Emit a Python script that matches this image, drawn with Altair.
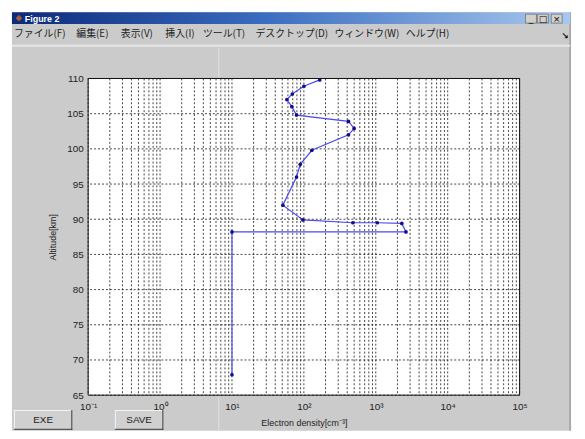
import altair as alt
import pandas as pd

# ---- data ----
altitude_km = [67.9, 88.2, 88.2, 89.4, 89.5, 89.5, 89.9, 92.0, 96.0, 97.8,
               99.8, 102.0, 102.9, 103.9, 104.8, 106.0, 107.0, 107.8, 108.9, 109.8]
density_cm3 = [10, 10, 2630, 2300, 1050, 480, 97, 51, 79, 89,
               129, 417, 500, 417, 79, 68, 58, 69, 100, 166]
x_decades = [0.1, 1, 10, 100, 1000, 10000, 100000]
x_decade_labels = ["10⁻¹", "10⁰", "10¹", "10²", "10³", "10⁴", "10⁵"]
y_ticks = [65, 70, 75, 80, 85, 90, 95, 100, 105, 110]
menu_items = ["ファイル(F)", "編集(E)", "表示(V)", "挿入(I)", "ツール(T)",
              "デスクトップ(D)", "ウィンドウ(W)", "ヘルプ(H)"]
window_title = "Figure 2"
button_labels = ["EXE", "SAVE"]

df = pd.DataFrame({"alt": altitude_km, "dens": density_cm3,
                   "idx": list(range(len(altitude_km)))})

# grid positions for a log axis: 1..9 x each decade
x_grid = []
for d in x_decades[:-1]:
    for m in range(1, 10):
        x_grid.append(m * d)
x_grid.append(x_decades[-1])

label_expr = ""
for v, lab in zip(x_decades, x_decade_labels):
    label_expr += f"datum.value == {v} ? '{lab}' : "
label_expr += "''"

W, H = 436, 320
# plot-area origin on the page
OX, OY = 89, 77
def px(x):
    return x - OX
def py(y):
    return y - OY

dummy = alt.Data(values=[{"d": 0}])
base = alt.Chart(dummy)

def rect(x1, y1, x2, y2, **kw):
    return base.mark_rect(**kw).encode(
        x=alt.value(px(x1)), x2=alt.value(px(x2)),
        y=alt.value(py(y1)), y2=alt.value(py(y2)))

def hline(x1, x2, y, color, width=1):
    return base.mark_rule(color=color, strokeWidth=width).encode(
        x=alt.value(px(x1)), x2=alt.value(px(x2)), y=alt.value(py(y)))

def vline(x, y1, y2, color, width=1):
    return base.mark_rule(color=color, strokeWidth=width).encode(
        x=alt.value(px(x)), y=alt.value(py(y1)), y2=alt.value(py(y2)))

def text(s, x, y, **kw):
    return base.mark_text(**kw).encode(
        x=alt.value(px(x)), y=alt.value(py(y)), text=alt.value(s))

layers = []
# window body
layers.append(rect(12, 10, 577, 433, color="#cbcbcb"))
layers.append(vline(576, 10, 433, "#8a8a8a"))
# title bar
layers.append(rect(12, 10, 576, 22, color=alt.Gradient(
    gradient="linear",
    stops=[alt.GradientStop(color="#0c2a7a", offset=0),
           alt.GradientStop(color="#3a6cc0", offset=0.45),
           alt.GradientStop(color="#a8c8ee", offset=1)],
    x1=0, x2=1, y1=0, y2=0)))
layers.append(base.mark_point(shape="diamond", filled=True, color="#e8701a", size=45).encode(
    x=alt.value(px(19)), y=alt.value(py(16))))
layers.append(text(window_title, 25, 16.5, align="left", baseline="middle",
                   color="white", fontSize=9, font="Liberation Sans", fontWeight="bold"))
for (bx, glyph) in [(531, "_"), (543, "□"), (557, "×")]:
    layers.append(rect(bx, 12, bx + 11, 21, color="#d4d0c8", stroke="#404040", strokeWidth=0.5))
    layers.append(text(glyph, bx + 5.5, 16.5, align="center", baseline="middle",
                       color="black", fontSize=9, font="DejaVu Sans"))
# menu bar
menu_x = [14, 77, 122, 167, 205, 258, 338, 410]
for s, mx in zip(menu_items, menu_x):
    layers.append(text(s, mx, 32.5, align="left", baseline="middle", color="#222",
                       fontSize=10, font="Noto Sans CJK JP"))
layers.append(text("↘", 571, 34, align="center", baseline="middle", color="#111",
                   fontSize=9, font="DejaVu Sans", fontWeight="bold"))
layers.append(hline(12, 576, 44, "#e6e6e6", 2))
# faint panel divider
layers.append(vline(221, 46, 77, "#e2e2e2"))
layers.append(vline(221, 397, 433, "#e2e2e2"))
# push buttons
for (b1, b2, lab) in [(14, 73, button_labels[0]), (116, 165, button_labels[1])]:
    layers.append(rect(b1, 412, b2, 432, color="#d0d0d0"))
    layers.append(hline(b1, b2, 412.5, "#f4f4f4"))
    layers.append(vline(b1 + 0.5, 412, 432, "#f4f4f4"))
    layers.append(hline(b1, b2, 431.5, "#3a3a3a"))
    layers.append(vline(b2 - 0.5, 412, 432, "#3a3a3a"))
    layers.append(text(lab, (b1 + b2) / 2, 422, align="center", baseline="middle",
                       color="#222", fontSize=10, font="Liberation Sans"))

# white plot area
layers.append(base.mark_rect(color="white").encode(
    x=alt.value(0), x2=alt.value(W), y=alt.value(0), y2=alt.value(H)))

x_scale = alt.Scale(type="log", domain=[x_decades[0], x_decades[-1]], nice=False)
y_scale = alt.Scale(domain=[y_ticks[0], y_ticks[-1]], nice=False, zero=False)

x_axis = alt.Axis(values=x_grid, labelExpr=label_expr, ticks=False,
                  domain=False, grid=False, zindex=1,
                  labelFlush=False, labelOverlap=False, labelPadding=6,
                  labelFontSize=10, labelFont="Liberation Sans", labelColor="#222",
                  title="Electron density[cm⁻³]", titleFontSize=9,
                  titleFont="Liberation Sans", titleFontWeight="normal",
                  titleColor="#222", titlePadding=8)
y_axis = alt.Axis(values=y_ticks, ticks=False, labelOverlap=False, labelFlush=False,
                  labelSeparation=0, domain=False, grid=False, zindex=1,
                  labelPadding=5, labelFontSize=10, labelFont="Liberation Sans",
                  labelColor="#222", title="Altitude[km]", titleFontSize=9,
                  titleFont="Liberation Sans", titleFontWeight="normal",
                  titleColor="#222", titlePadding=9)

grid_style = dict(color="#222", strokeWidth=1, strokeDash=[2, 2], opacity=0.85)
xgrid = alt.Chart(pd.DataFrame({"dens": x_grid})).mark_rule(**grid_style).encode(
    x=alt.X("dens:Q", scale=x_scale, axis=x_axis))
ygrid = alt.Chart(pd.DataFrame({"alt": y_ticks})).mark_rule(**grid_style).encode(
    y=alt.Y("alt:Q", scale=y_scale, axis=y_axis))

line = alt.Chart(df).mark_line(color="#4a4af0", strokeWidth=1.2).encode(
    x=alt.X("dens:Q", scale=x_scale, axis=x_axis),
    y=alt.Y("alt:Q", scale=y_scale, axis=y_axis),
    order="idx:Q")
pts = alt.Chart(df).mark_point(filled=True, color="#10108a", size=14, opacity=1).encode(
    x=alt.X("dens:Q", scale=x_scale, axis=x_axis),
    y=alt.Y("alt:Q", scale=y_scale, axis=y_axis))

frame = base.mark_rect(fillOpacity=0, stroke="#111", strokeWidth=1).encode(
    x=alt.value(0), x2=alt.value(W), y=alt.value(0), y2=alt.value(H))

chart = alt.layer(*layers, xgrid, ygrid, line, pts, frame).properties(
    width=W, height=H,
    autosize=alt.AutoSizeParams(type="none"),
    padding={"left": 81, "top": 69, "right": 58, "bottom": 36},
).configure(background="white").configure_view(stroke=None)

chart.save("out.html", embed_options={"renderer": "svg", "actions": False})
